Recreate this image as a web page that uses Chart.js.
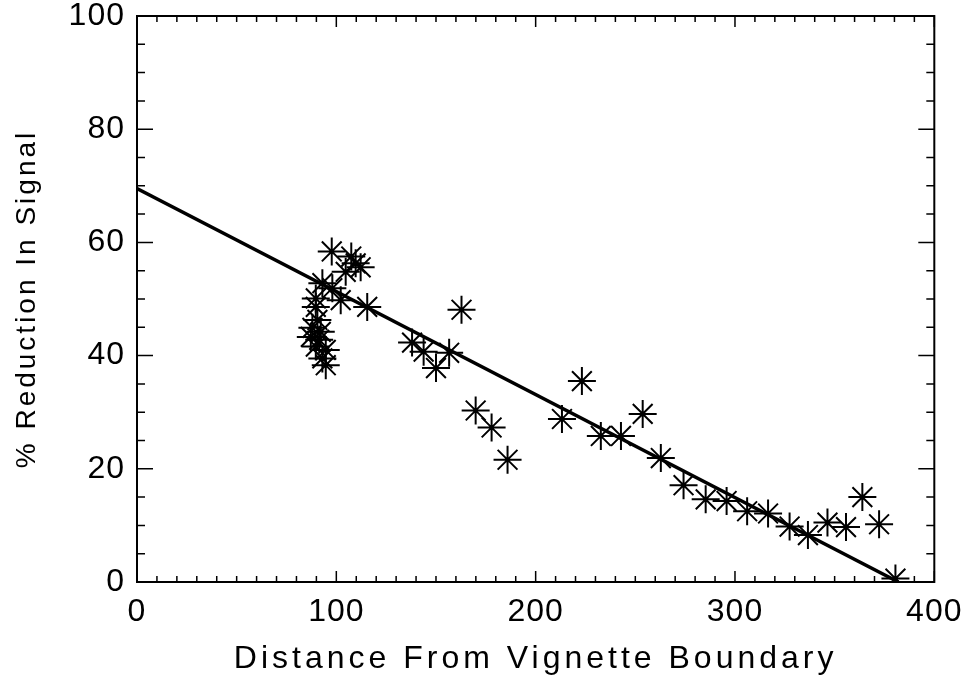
<!DOCTYPE html>
<html lang="en">
<head>
  <meta charset="utf-8" />
  <title>Reduction vs distance</title>
  <script src="https://cdn.jsdelivr.net/npm/chart.js@4.4.1/dist/chart.umd.min.js"></script>
  <style>
    html, body { margin: 0; padding: 0; background: #fff; }
    #wrap { width: 972px; height: 677px; }
  </style>
</head>
<body>
  <div id="wrap"><canvas id="chart"></canvas></div>

  <script>
    // measured points (distance from vignette boundary, % reduction)
    const distance = [
      97.7, 107.5, 109.7, 112.2, 104.7, 98.0, 93.0, 89.7, 102.2, 115.5,
      89.7, 90.5, 88.0, 92.2, 87.2, 91.4, 89.7, 94.7, 93.0, 94.7,
      138.0, 143.8, 150.0, 156.6, 162.8, 169.9, 177.9, 185.9,
      213.2, 223.2, 232.7, 242.8, 253.7, 262.8, 274.2, 285.3, 295.8,
      306.1, 316.6, 327.4, 336.6, 346.4, 355.7, 363.9, 372.3, 380.5
    ];
    const reduction = [
      58.4, 57.5, 56.3, 55.6, 54.8, 51.9, 52.8, 50.1, 49.8, 48.6,
      48.6, 46.3, 44.9, 44.2, 43.3, 42.8, 41.6, 41.0, 39.5, 38.3,
      42.3, 40.7, 37.8, 40.5, 48.1, 30.3, 27.3, 21.6,
      28.8, 35.5, 25.8, 25.8, 29.7, 21.9, 17.1, 14.6, 14.3,
      12.5, 12.1, 9.8, 8.3, 10.5, 9.7, 15.0, 10.2, 0.6
    ];
    // fitted line end points
    const fitX = [0, 382];
    const fitY = [69.5, 0];

    const xTicks = [0, 100, 200, 300, 400];
    const yTicks = [0, 20, 40, 60, 80, 100];

    const points = distance.map((d, i) => ({ x: d, y: reduction[i] }));
    const fitLine = fitX.map((d, i) => ({ x: d, y: fitY[i] }));

    // frame with inward ticks on all four sides, like the original plot
    const frameTicks = {
      id: 'frameTicks',
      afterDatasetsDraw(chart) {
        const { ctx, chartArea: a, scales: { x, y } } = chart;
        ctx.save();
        ctx.strokeStyle = '#000';
        ctx.lineWidth = 2;
        ctx.strokeRect(a.left, a.top, a.right - a.left, a.bottom - a.top);
        ctx.lineWidth = 1.5;
        ctx.beginPath();
        for (let v = 0; v <= 400; v += 10) {
          const px = x.getPixelForValue(v);
          const len = v % 100 === 0 ? 11 : 6;
          ctx.moveTo(px, a.bottom); ctx.lineTo(px, a.bottom - len);
          ctx.moveTo(px, a.top); ctx.lineTo(px, a.top + len);
        }
        for (let v = 0; v <= 100; v += 5) {
          const py = y.getPixelForValue(v);
          const len = v % 20 === 0 ? 16 : 8;
          ctx.moveTo(a.left, py); ctx.lineTo(a.left + len, py);
          ctx.moveTo(a.right, py); ctx.lineTo(a.right - len, py);
        }
        ctx.stroke();
        ctx.restore();
      }
    };

    // wider letter spacing for the axis texts
    const spacing = {
      id: 'spacing',
      afterLayout(chart) {
        const wrap = (scale, fn, sp) => {
          const orig = scale[fn];
          if (orig._wrapped) return;
          scale[fn] = function (...args) {
            const ctx = this.ctx;
            ctx.save();
            ctx.letterSpacing = sp;
            orig.apply(this, args);
            ctx.restore();
          };
          scale[fn]._wrapped = true;
        };
        wrap(chart.scales.x, 'drawTitle', '4px');
        wrap(chart.scales.y, 'drawTitle', '3px');
        wrap(chart.scales.x, 'drawLabels', '1px');
        wrap(chart.scales.y, 'drawLabels', '1px');
      }
    };

    new Chart(document.getElementById('chart'), {
      type: 'scatter',
      data: {
        datasets: [
          {
            type: 'line',
            data: fitLine,
            borderColor: '#000',
            borderWidth: 3.5,
            pointRadius: 0,
            fill: false
          },
          {
            data: points,
            pointStyle: 'star',
            pointRadius: 14,
            pointBorderWidth: 2,
            borderColor: '#000',
            backgroundColor: '#000'
          }
        ]
      },
      options: {
        responsive: true,
        maintainAspectRatio: false,
        animation: false,
        layout: { padding: { left: 0, right: 31, top: 0, bottom: 0 } },
        plugins: {
          legend: { display: false },
          tooltip: { enabled: false }
        },
        scales: {
          x: {
            type: 'linear',
            min: 0,
            max: 400,
            afterBuildTicks: (s) => { s.ticks = xTicks.map(v => ({ value: v })); },
            afterFit: (s) => { s.height = 95; },
            grid: { display: false, drawTicks: false },
            border: { display: false },
            ticks: {
              padding: 11,
              color: '#000',
              maxRotation: 0,
              font: { family: 'Liberation Sans', size: 32 }
            },
            title: {
              display: true,
              text: 'Distance From Vignette Boundary',
              color: '#000',
              padding: { top: 0, bottom: 0 },
              font: { family: 'Liberation Sans', size: 32, lineHeight: 1.1 }
            }
          },
          y: {
            type: 'linear',
            min: 0,
            max: 100,
            afterBuildTicks: (s) => { s.ticks = yTicks.map(v => ({ value: v })); },
            afterFit: (s) => { s.width = 137; s.paddingTop = 15; },
            grid: { display: false, drawTicks: false },
            border: { display: false },
            ticks: {
              padding: 12,
              color: '#000',
              font: { family: 'Liberation Sans', size: 32 }
            },
            title: {
              display: true,
              text: '% Reduction In Signal',
              color: '#000',
              padding: { top: 10, bottom: 0 },
              font: { family: 'Liberation Sans', size: 28 }
            }
          }
        }
      },
      plugins: [frameTicks, spacing]
    });
  </script>
</body>
</html>
